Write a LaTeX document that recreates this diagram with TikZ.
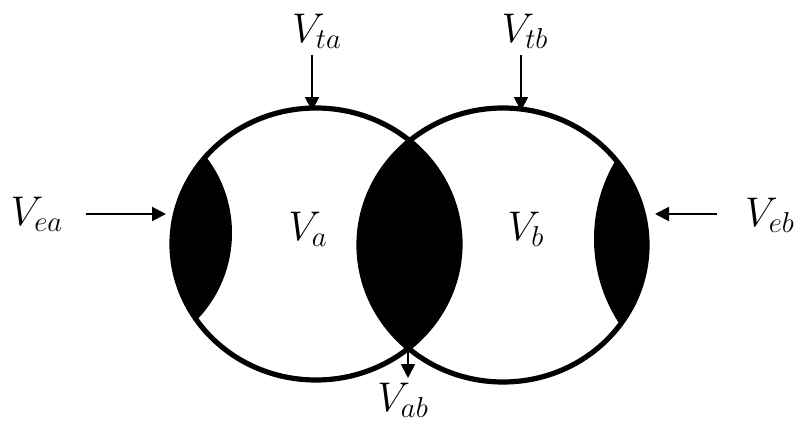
\documentclass[tikz,border=0pt]{standalone}
\usepackage{amsmath}
\usepackage{tikz}
\usetikzlibrary{arrows.meta}
\tikzset{
  rim/.style   = {line width=2.6pt, draw=black},
  lbl/.style   = {font=\huge, inner sep=0pt},
  ar/.style    = {-{Triangle[length=7pt,width=7pt]}, line width=1pt},
}

\begin{document}
\begin{tikzpicture}[x=0.5pt, y=-0.5pt]
  \useasboundingbox (0,0) rectangle (798,423);

  % shaded parts
  \begin{scope}
    \clip (316,244) ellipse [x radius=144, y radius=136];
    \fill (107,233) circle [radius=125];
    \fill (503,245) ellipse [x radius=144, y radius=137];
  \end{scope}
  \begin{scope}
    \clip (503,245) ellipse [x radius=144, y radius=137];
    \fill (748,239) circle [radius=154];
  \end{scope}

  % the two volumes
  \draw[rim] (316,244) ellipse [x radius=144, y radius=136];
  \draw[rim] (503,245) ellipse [x radius=144, y radius=137];

  \node[lbl] (va) at (308,229) {$V_a$};
  \node[lbl] (vb) at (526,229) {$V_b$};

  \node[lbl] (vta) at (317,31) {$V_{ta}$};
  \node[lbl] (vtb) at (525,31) {$V_{tb}$};
  \node[lbl] (vea) at (37,214) {$V_{ea}$};
  \node[lbl] (veb) at (770,215) {$V_{eb}$};
  \node[lbl] (vab) at (403,400) {$V_{ab}$};

  \coordinate (ta0) at (312,55);  \coordinate (ta) at (312,111);
  \coordinate (tb0) at (521,55);  \coordinate (tb) at (521,111);
  \coordinate (ea0) at (86,214);  \coordinate (ea) at (166,214);
  \coordinate (eb0) at (717,214); \coordinate (eb) at (655,214);
  \coordinate (ab0) at (408,349); \coordinate (ab) at (408,378);

  \draw[ar] (ta0) -- (ta);
  \draw[ar] (tb0) -- (tb);
  \draw[ar] (ea0) -- (ea);
  \draw[ar] (eb0) -- (eb);
  \draw[ar] (ab0) -- (ab);
\end{tikzpicture}
\end{document}
